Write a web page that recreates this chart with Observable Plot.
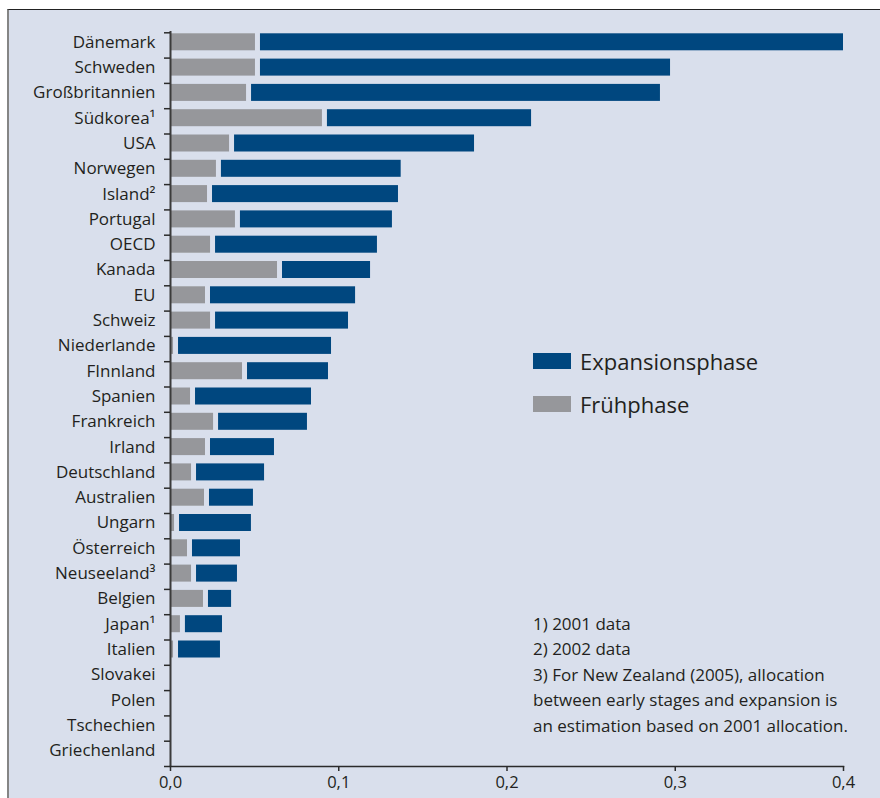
<!DOCTYPE html>
<html>
<head>
<meta charset="utf-8">
<script src="https://cdn.jsdelivr.net/npm/d3@7"></script>
<script src="https://cdn.jsdelivr.net/npm/@observablehq/plot@0.6"></script>
<style>
  html, body { margin: 0; padding: 0; background: #fff; }
  #page { position: relative; width: 880px; height: 798px; overflow: hidden; font-family: "Open Sans", sans-serif; color: #231f20; }
  #bg { position: absolute; left: 7px; top: 9px; right: 0; bottom: 0; background: #d9dfec; border-top: 1.5px solid #222; border-left: 2px solid #858585; }
  #chart { position: absolute; left: 0; top: 0; }
  #legend { position: absolute; left: 533px; top: 345px; font-size: 22px; }
  #legend .item { display: flex; align-items: center; height: 32px; margin-bottom: 11px; }
  #legend .sw { width: 38px; height: 16px; margin-right: 9px; }
  #notes { position: absolute; left: 533px; top: 611px; font-size: 17px; line-height: 25.4px; white-space: nowrap; }
</style>
</head>
<body>
<div id="page">
  <div id="bg"></div>
  <div id="chart"></div>
  <div id="legend"></div>
  <div id="notes"></div>
</div>
<script>
const countries = ["Dänemark","Schweden","Großbritannien","Südkorea¹","USA","Norwegen","Island²","Portugal","OECD","Kanada","EU","Schweiz","Niederlande","FInnland","Spanien","Frankreich","Irland","Deutschland","Australien","Ungarn","Österreich","Neuseeland³","Belgien","Japan¹","Italien","Slovakei","Polen","Tschechien","Griechenland"];
const fruehphase = [0.0505,0.0505,0.0452,0.0903,0.0351,0.0273,0.0220,0.0386,0.0238,0.0636,0.0208,0.0238,0.0018,0.0428,0.0119,0.0256,0.0208,0.0125,0.0202,0.0024,0.0101,0.0125,0.0196,0.0059,0.0018,0,0,0,0];
const expansionsphase = [0.3495,0.2467,0.2460,0.1243,0.1456,0.1098,0.1135,0.0933,0.0992,0.0553,0.0892,0.0820,0.0939,0.0511,0.0719,0.0558,0.0410,0.0434,0.0291,0.0457,0.0315,0.0273,0.0167,0.0250,0.0279,0,0,0,0];
const seriesNames = ["Expansionsphase","Frühphase"];
const seriesColors = ["#00477f","#96979b"];
const xTicks = [0, 0.1, 0.2, 0.3, 0.4];
const notes = ["1) 2001 data","2) 2002 data","3) For New Zealand (2005), allocation","between early stages and expansion is","an estimation based on 2001 allocation."];

const rows = countries.map((c, i) => ({country: c, frueh: fruehphase[i], exp: expansionsphase[i]}));
const last = countries[countries.length - 1];

const chart = Plot.plot({
  width: 880,
  height: 798,
  marginLeft: 170,
  marginRight: 37,
  marginTop: 31,
  marginBottom: 32,
  style: {background: "transparent", fontFamily: "Open Sans, sans-serif", fontSize: "17px", color: "#231f20"},
  x: {domain: [0, 0.4]},
  y: {domain: countries, range: [33.3, 758.7], paddingInner: 0.328, paddingOuter: 0, round: false},
  marks: [
    Plot.barX(rows, {y: "country", x1: 0, x2: "frueh", fill: seriesColors[1]}),
    Plot.barX(rows.filter(d => d.exp > 0), {y: "country", x1: "frueh", x2: d => d.frueh + d.exp, fill: seriesColors[0], insetLeft: 5}),
    Plot.ruleX([0], {stroke: "#3b3b3b", strokeWidth: 2}),
    Plot.frame({anchor: "bottom", stroke: "#2b2b2b", strokeWidth: 1.5}),
    Plot.ruleY(countries, {y: d => d, x1: d => 0, x2: d => 0, insetLeft: -6, dy: -9.5, stroke: "#2b2b2b", strokeWidth: 1.5}),
    Plot.ruleY([last], {y: d => d, x1: d => 0, x2: d => 0, insetLeft: -6, dy: 15.8, stroke: "#2b2b2b", strokeWidth: 1.5}),
    Plot.axisY({tickSize: 0, tickPadding: 15, fontSize: 17, label: null, fill: "#231f20"}),
    Plot.axisX({ticks: xTicks, tickFormat: d => d.toFixed(1).replace(".", ","), tickSize: 5, tickPadding: 5, fontSize: 16.5, label: null, stroke: "#2b2b2b", strokeWidth: 1.5, fill: "#231f20"})
  ]
});
document.getElementById("chart").appendChild(chart);

const legend = document.getElementById("legend");
seriesNames.forEach((name, i) => {
  const item = document.createElement("div");
  item.className = "item";
  const sw = document.createElement("div");
  sw.className = "sw";
  sw.style.background = seriesColors[i];
  const t = document.createElement("span");
  t.textContent = name;
  item.appendChild(sw);
  item.appendChild(t);
  legend.appendChild(item);
});
const notesEl = document.getElementById("notes");
notes.forEach(n => {
  const d = document.createElement("div");
  d.textContent = n;
  notesEl.appendChild(d);
});
</script>
</body>
</html>
